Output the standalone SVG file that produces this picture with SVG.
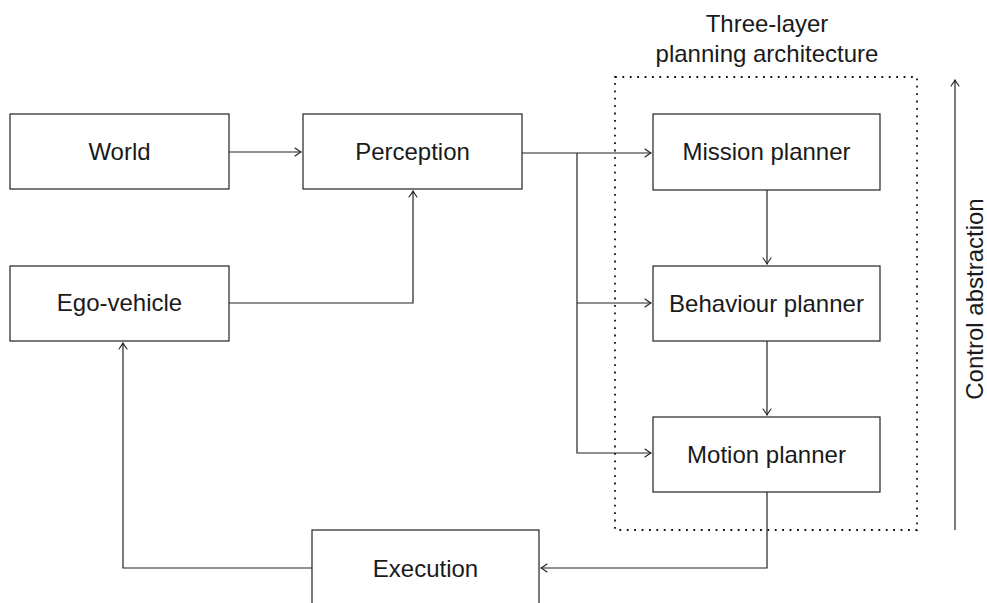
<svg xmlns="http://www.w3.org/2000/svg" width="987" height="603" viewBox="0 0 987 603">
<style>
.box{fill:#fff;stroke:#222;stroke-width:1.2}
.t{font-family:"Liberation Sans",Arial,sans-serif;font-size:24px;fill:#1a1a1a;text-anchor:middle}
.c{fill:none;stroke:#222;stroke-width:1.2}
</style>
<defs>
<marker id="ah" viewBox="-7 -5 9 10" refX="0" refY="0" markerWidth="9" markerHeight="10" markerUnits="userSpaceOnUse" orient="auto">
<path d="M-6,-4 Q-2,-1 0,0 Q-2,1 -6,4" fill="none" stroke="#222" stroke-width="1.1" stroke-linecap="round"/>
</marker>
</defs>
<g id="frame">
<rect x="615" y="77" width="302" height="453" fill="none" stroke="#111" stroke-width="1.8" stroke-dasharray="1.8 5.6"/>
<text class="t" x="767" y="32">Three-layer</text>
<text class="t" x="767" y="62">planning architecture</text>
</g>
<g id="connectors">
<path class="c" d="M229,152 H301" marker-end="url(#ah)"/>
<path class="c" d="M229,303 H413 V191" marker-end="url(#ah)"/>
<path class="c" d="M522,153 H651" marker-end="url(#ah)"/>
<path class="c" d="M577,153 V453 H651" marker-end="url(#ah)"/>
<path class="c" d="M577,303 H651" marker-end="url(#ah)"/>
<path class="c" d="M767,190 V264" marker-end="url(#ah)"/>
<path class="c" d="M767,341 V415" marker-end="url(#ah)"/>
<path class="c" d="M767,492 V568 H541" marker-end="url(#ah)"/>
<path class="c" d="M312,568 H123 V343" marker-end="url(#ah)"/>
<path class="c" d="M955,530 V80" marker-end="url(#ah)"/>
</g>
<g id="world"><rect class="box" x="10" y="114" width="219" height="75"/><text class="t" x="119.5" y="160">World</text></g>
<g id="perception"><rect class="box" x="303" y="114" width="219" height="75"/><text class="t" x="412.5" y="160">Perception</text></g>
<g id="ego"><rect class="box" x="10" y="266" width="219" height="75"/><text class="t" x="119.5" y="311">Ego-vehicle</text></g>
<g id="mission"><rect class="box" x="653" y="114" width="227" height="76"/><text class="t" x="766.5" y="160">Mission planner</text></g>
<g id="behaviour"><rect class="box" x="653" y="266" width="227" height="75"/><text class="t" x="766.5" y="312">Behaviour planner</text></g>
<g id="motion"><rect class="box" x="653" y="417" width="227" height="75"/><text class="t" x="766.5" y="463">Motion planner</text></g>
<g id="execution"><rect class="box" x="312" y="530" width="227" height="80"/><text class="t" x="425.5" y="577">Execution</text></g>
<g id="control-label"><text class="t" transform="translate(983,299) rotate(-90)">Control abstraction</text></g>
</svg>
